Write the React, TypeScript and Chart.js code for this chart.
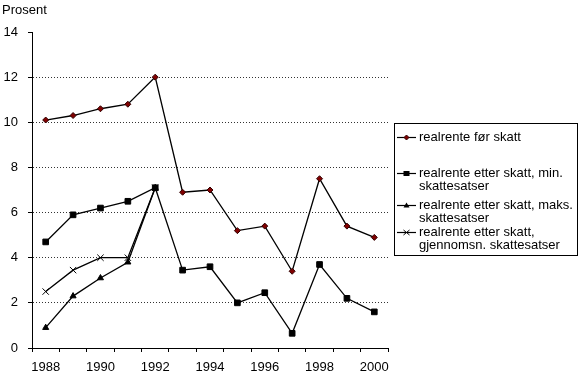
import React, { useEffect, useRef } from 'react';
import { Chart, registerables } from 'chart.js';

Chart.register(...registerables);

const years = ['1988', '1989', '1990', '1991', '1992', '1993', '1994', '1995', '1996', '1997', '1998', '1999', '2000'];
const realrenteForSkatt = [10.1, 10.3, 10.6, 10.8, 12.0, 6.9, 7.0, 5.2, 5.4, 3.4, 7.5, 5.4, 4.9];
const etterSkattMin = [4.7, 5.9, 6.2, 6.5, 7.1, 3.45, 3.6, 2.0, 2.45, 0.65, 3.7, 2.2, 1.6];
const etterSkattMaks = [0.9, 2.3, 3.1, 3.8, 7.1, null, null, null, null, null, null, null, null];
const etterSkattSnitt = [2.5, 3.45, 4.0, 4.0, 7.1, null, null, null, null, null, null, null, null];
const yMin = 0;
const yMax = 14;
const yStep = 2;
const yTitle = 'Prosent';
const legendLines = [
  ['realrente før skatt'],
  ['realrente etter skatt, min.', 'skattesatser'],
  ['realrente etter skatt, maks.', 'skattesatser'],
  ['realrente etter skatt,', 'gjennomsn. skattesatser'],
];
const legendMarkers = ['rectRot', 'rect', 'triangle', 'crossRot'];

const FONT = '"Liberation Sans", Arial, sans-serif';

function drawMarker(ctx: CanvasRenderingContext2D, style: string, x: number, y: number) {
  ctx.save();
  ctx.beginPath();
  if (style === 'rectRot') {
    const r = 2.5;
    ctx.moveTo(x, y - r);
    ctx.lineTo(x + r, y);
    ctx.lineTo(x, y + r);
    ctx.lineTo(x - r, y);
    ctx.closePath();
    ctx.fillStyle = '#800000';
    ctx.fill();
    ctx.strokeStyle = '#300000';
    ctx.lineWidth = 1;
    ctx.stroke();
  } else if (style === 'rect') {
    ctx.fillStyle = '#000';
    ctx.fillRect(x - 3, y - 2.5, 6, 5);
  } else if (style === 'triangle') {
    ctx.moveTo(x, y - 3);
    ctx.lineTo(x + 3, y + 2);
    ctx.lineTo(x - 3, y + 2);
    ctx.closePath();
    ctx.fillStyle = '#000';
    ctx.fill();
  } else if (style === 'crossRot') {
    ctx.moveTo(x - 3, y - 2.5);
    ctx.lineTo(x + 3, y + 2.5);
    ctx.moveTo(x + 3, y - 2.5);
    ctx.lineTo(x - 3, y + 2.5);
    ctx.strokeStyle = '#000';
    ctx.lineWidth = 1;
    ctx.stroke();
  }
  ctx.restore();
}

const customPlugin = {
  id: 'customDecor',
  afterDraw(chart: any) {
    const ctx: CanvasRenderingContext2D = chart.ctx;
    ctx.save();
    // y axis title
    ctx.fillStyle = '#000';
    ctx.font = `13px ${FONT}`;
    ctx.textAlign = 'left';
    ctx.textBaseline = 'middle';
    ctx.fillText(yTitle, 2, 10);

    // legend box
    const bx = 394.5, by = 123.5, bw = 183, bh = 132;
    ctx.strokeStyle = '#000';
    ctx.lineWidth = 1;
    ctx.strokeRect(bx, by, bw, bh);

    const firstLineY = [137, 173, 205, 232];
    const lineGap = 13;
    legendLines.forEach((lines, i) => {
      const y0 = firstLineY[i];
      ctx.beginPath();
      ctx.moveTo(397, y0 + 0.5);
      ctx.lineTo(416, y0 + 0.5);
      ctx.strokeStyle = '#000';
      ctx.lineWidth = 1.2;
      ctx.stroke();
      drawMarker(ctx, legendMarkers[i], 406.5, y0 + 0.5);
      ctx.fillStyle = '#000';
      ctx.font = `13px ${FONT}`;
      ctx.textAlign = 'left';
      ctx.textBaseline = 'middle';
      lines.forEach((t, j) => {
        ctx.fillText(t, 419, y0 + j * lineGap);
      });
    });
    ctx.restore();
  },
};

export default function App() {
  const canvasRef = useRef<HTMLCanvasElement | null>(null);

  useEffect(() => {
    const canvas = canvasRef.current;
    if (!canvas) return;
    const lineBase = {
      borderColor: '#000',
      borderWidth: 1.3,
      tension: 0,
      spanGaps: false,
      fill: false,
    };
    const chart = new Chart(canvas, {
      type: 'line',
      data: {
        labels: years,
        datasets: [
          {
            ...lineBase,
            label: legendLines[0].join(' '),
            data: realrenteForSkatt,
            pointStyle: 'rectRot',
            pointRadius: 3,
            pointBackgroundColor: '#800000',
            pointBorderColor: '#300000',
            pointBorderWidth: 1,
          },
          {
            ...lineBase,
            label: legendLines[1].join(' '),
            data: etterSkattMin,
            pointStyle: 'rect',
            pointRadius: 4,
            pointBackgroundColor: '#000',
            pointBorderColor: '#000',
            pointBorderWidth: 1,
          },
          {
            ...lineBase,
            label: legendLines[2].join(' '),
            data: etterSkattMaks,
            pointStyle: 'triangle',
            pointRadius: 3.5,
            pointBackgroundColor: '#000',
            pointBorderColor: '#000',
            pointBorderWidth: 1,
          },
          {
            ...lineBase,
            label: legendLines[3].join(' '),
            data: etterSkattSnitt,
            pointStyle: 'crossRot',
            pointRadius: 4.5,
            pointBackgroundColor: '#000',
            pointBorderColor: '#000',
            pointBorderWidth: 1,
          },
        ],
      },
      options: {
        animation: false,
        responsive: false,
        devicePixelRatio: 1,
        layout: { padding: { left: 0, top: 32, right: 192, bottom: 0 } },
        plugins: {
          legend: { display: false },
          tooltip: { enabled: false },
          title: { display: false },
        },
        scales: {
          x: {
            type: 'category',
            offset: true,
            grid: {
              offset: true,
              drawOnChartArea: false,
              drawTicks: true,
              tickLength: 4,
              color: '#000',
              tickColor: '#000',
            },
            border: { display: true, color: '#000', width: 1 },
            ticks: {
              autoSkip: false,
              maxRotation: 0,
              minRotation: 0,
              padding: 8,
              color: '#000',
              font: { family: FONT, size: 13 },
              callback: (_v: any, idx: number) => (idx % 2 === 0 ? years[idx] : ''),
            },
            afterFit: (scale: any) => {
              scale.height = 27;
            },
          },
          y: {
            min: yMin,
            max: yMax,
            grid: {
              drawTicks: true,
              tickLength: 4,
              color: (c: any) => {
                const v = c.tick ? c.tick.value : 0;
                return v > yMin && v < yMax ? '#333' : 'rgba(0,0,0,0)';
              },
              tickColor: '#000',
              lineWidth: 1,
            },
            border: { display: true, color: '#000', width: 1, dash: [1, 2] },
            ticks: {
              stepSize: yStep,
              padding: 10,
              color: '#000',
              font: { family: FONT, size: 13 },
            },
            afterFit: (scale: any) => {
              scale.width = 32;
            },
          },
        },
      },
      plugins: [customPlugin],
    });
    return () => chart.destroy();
  }, []);

  return (
    <div style={{ position: 'absolute', left: 0, top: 0, width: 580, height: 375, background: '#fff' }}>
      <canvas ref={canvasRef} width={580} height={375} style={{ display: 'block' }} />
    </div>
  );
}
